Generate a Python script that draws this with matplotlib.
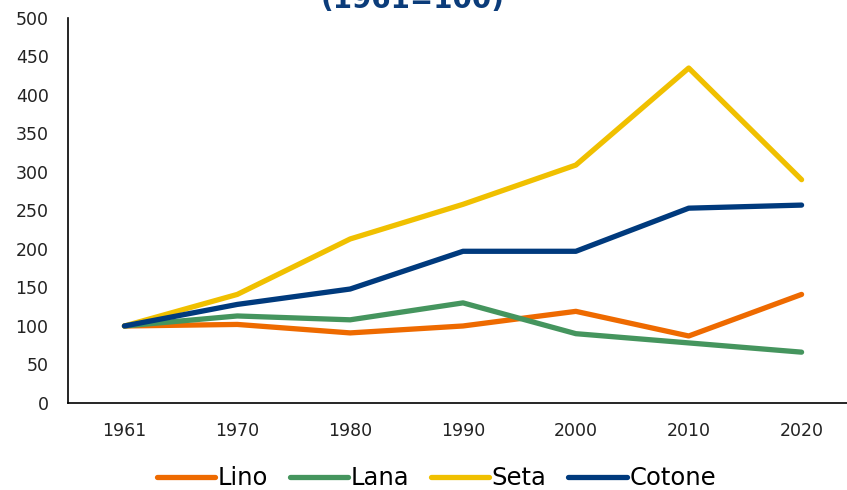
import numpy as np
import matplotlib.pyplot as plt

# Index values (1961 = 100)
years = ['1961', '1970', '1980', '1990', '2000', '2010', '2020']
lino = [100, 102, 91, 100, 119, 87, 141]
lana = [100, 113, 108, 130, 90, 78, 66]
seta = [100, 141, 213, 258, 309, 435, 290]
cotone = [100, 128, 148, 197, 197, 253, 257]

series = [
    ('Lino', lino, '#EE6A00'),
    ('Lana', lana, '#45955E'),
    ('Seta', seta, '#F0C000'),
    ('Cotone', cotone, '#003A7D'),
]

fig = plt.figure(figsize=(8.47, 4.9), dpi=100)
ax = fig.add_axes([0.0803, 0.1776, 0.9327, 0.7857])

x = np.arange(len(years))
for name, vals, col in series:
    ax.plot(x, vals, color=col, lw=3.8, label=name, solid_capstyle='round')

ax.set_xlim(-0.5, len(years) - 0.5)
ax.set_ylim(0, 500)
ax.set_yticks(np.arange(0, 501, 50))
ax.set_xticks(x)
ax.set_xticklabels(years)
ax.tick_params(axis='both', length=0, labelsize=12.5, colors='#222222')
ax.tick_params(axis='y', pad=14)
ax.tick_params(axis='x', pad=14)

for s in ['top', 'right']:
    ax.spines[s].set_visible(False)
for s in ['left', 'bottom']:
    ax.spines[s].set_color('#000000')
    ax.spines[s].set_linewidth(1.2)

# title clipped at the top edge as in the source
fig.text(0.487, 0.984, '(1961=100)', ha='center', va='baseline',
         fontsize=20, fontweight='bold', color='#0B3C7A')

fig.legend(loc='lower center', bbox_to_anchor=(0.515, -0.045), ncol=4,
           frameon=False, fontsize=17.5, handlelength=2.4, handletextpad=0.1,
           columnspacing=0.9)

fig.savefig('out.png', dpi=100)
